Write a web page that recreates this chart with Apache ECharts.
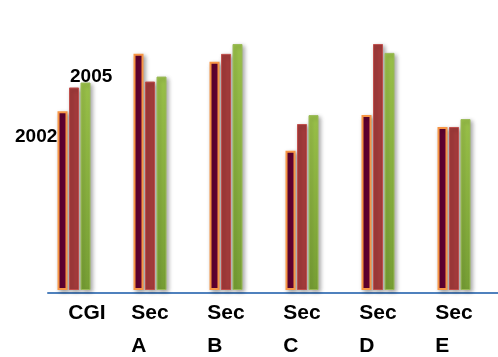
<!DOCTYPE html>
<html>
<head>
<meta charset="utf-8">
<script src="https://cdn.jsdelivr.net/npm/echarts@6/dist/echarts.min.js"></script>
<style>
  html, body { margin: 0; padding: 0; background: #ffffff; }
  #chart { width: 498px; height: 357px; }
</style>
</head>
<body>
<div id="chart"></div>
<script>
// Categories along the bottom axis
const categories = ['CGI', 'Sec A', 'Sec B', 'Sec C', 'Sec D', 'Sec E'];

// Three bars per category (first, middle, last series)
const seriesFirst  = [181, 239, 231, 141, 177, 165];
const seriesMiddle = [205, 211, 239, 168, 249, 165];
const seriesLast   = [210, 216, 249, 177, 240, 173];

// Free-standing year captions
const yearLabels = ['2002', '2005'];

const chart = echarts.init(document.getElementById('chart'), null, { renderer: 'canvas' });

const shadow = {
  shadowColor: 'rgba(0,0,0,0.35)',
  shadowBlur: 4,
  shadowOffsetX: 2,
  shadowOffsetY: 2
};

const labelFont = {
  fontFamily: 'Liberation Sans, Arial, sans-serif',
  fontWeight: 'bold', fontSize: 21, color: '#000',
  lineHeight: 33, align: 'left'
};

chart.setOption({
  animation: false,
  backgroundColor: '#ffffff',
  grid: [
    { left: 36, right: 6, top: 43, bottom: 64 },
    // baseline grid: only its horizontal axis line is drawn
    { left: 48, right: 0, top: 43, bottom: 64 }
  ],
  xAxis: [
    {
      type: 'category',
      gridIndex: 0,
      data: categories,
      axisLine: { show: false },
      axisTick: { show: false },
      axisLabel: {
        interval: 0,
        margin: 7,
        formatter: function (v) {
          if (v === 'CGI') return '{c|CGI}';
          const parts = v.split(' ');
          return '{s|' + parts[0] + '}\n{s|' + parts[1] + '}';
        },
        rich: {
          c: Object.assign({}, labelFont, { padding: [0, 0, 0, 26] }),
          s: labelFont
        }
      }
    },
    {
      type: 'value',
      gridIndex: 1,
      min: 0, max: 1,
      axisLine: { show: true, lineStyle: { color: '#4f81bd', width: 2 } },
      axisTick: { show: false },
      axisLabel: { show: false },
      splitLine: { show: false }
    }
  ],
  yAxis: [
    { type: 'value', gridIndex: 0, min: 0, max: 250, show: false },
    { type: 'value', gridIndex: 1, min: 0, max: 1, show: false }
  ],
  series: [
    {
      type: 'bar',
      data: seriesFirst,
      barWidth: 10,
      barGap: '15%',
      barCategoryGap: '20%',
      z: 3,
      itemStyle: Object.assign({
        color: '#650033',
        borderColor: '#f79646',
        borderWidth: 2
      }, shadow)
    },
    {
      type: 'bar',
      data: seriesMiddle,
      barWidth: 10,
      z: 3,
      itemStyle: Object.assign({
        color: '#a33b3b',
        borderColor: '#c0504d',
        borderWidth: 1
      }, shadow)
    },
    {
      type: 'bar',
      data: seriesLast,
      barWidth: 10,
      z: 3,
      itemStyle: Object.assign({
        color: new echarts.graphic.LinearGradient(0, 0, 0, 1, [
          { offset: 0, color: '#9bc24a' },
          { offset: 1, color: '#78a035' }
        ]),
        borderColor: '#9bbb59',
        borderWidth: 1
      }, shadow)
    }
  ],
  graphic: [
    {
      type: 'text',
      left: 15, top: 127,
      style: {
        text: yearLabels[0],
        font: 'bold 19px Liberation Sans, Arial, sans-serif',
        fill: '#000'
      }
    },
    {
      type: 'text',
      left: 70, top: 67,
      style: {
        text: yearLabels[1],
        font: 'bold 19px Liberation Sans, Arial, sans-serif',
        fill: '#000'
      }
    }
  ]
});
</script>
</body>
</html>
